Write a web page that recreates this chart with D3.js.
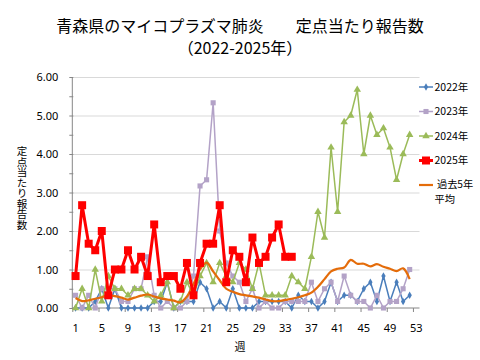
<!DOCTYPE html>
<html><head><meta charset="utf-8">
<script src="https://cdn.jsdelivr.net/npm/d3@7"></script>
<style>
html,body{margin:0;padding:0;background:#fff;}
svg{display:block;font-family:"Noto Sans CJK JP","Noto Sans",sans-serif;}
</style></head>
<body><svg id="c" width="480" height="360"></svg>
<script>
const weeks = d3.range(1, 54);
const xTickLabels = [1,5,9,13,17,21,25,29,33,37,41,45,49,53];
const yTickLabels = [0,1,2,3,4,5,6];
const seriesNames = ["2022年","2023年","2024年","2025年","過去5年平均"];

const s2022 = [0,0,0,0.17,0.5,0,0.5,0,0,0,0,0,0.17,0.17,0.67,0,0.17,0.17,0.17,0.67,0.5,0,0.17,0,0.5,0,0,0,0.17,0.17,0.17,0.17,0.17,0,0.33,0.17,0.17,0,0.17,0.67,0.17,0.33,0.33,0.17,0.5,0.67,0.17,0.83,0.17,0.67,0.17,0.33];
const s2023 = [0.33,0,0.33,0,0.5,0.5,0.5,0.17,0.17,0.5,0.5,1.33,0.33,0,0.17,0,0,0.17,0.83,3.17,3.33,5.33,2.0,1.17,0.83,0.67,0.17,0.5,0,0.17,0,0,0.17,0.17,0.17,0.17,0.67,0.17,0.5,0.67,0.17,0.83,0.33,0.17,0.17,0,0.33,0,0.17,0.17,0.5,1.0];
const s2024 = [0,0.5,0,1.0,0.17,0.83,0.5,0.5,0.33,0.5,0.5,0.33,0.17,0.33,0.67,0,0.17,0.67,0.33,0.83,1.17,0.67,1.17,0.83,0.67,1.17,1.0,0.5,1.17,0.33,0.33,0.33,0.33,0.83,0.67,0.5,1.33,2.5,1.83,4.17,2.5,4.83,5.0,5.67,4.0,5.0,4.5,4.67,4.17,3.33,4.0,4.5];
const s2025 = [0.83,2.67,1.67,1.5,2.0,0.33,1.0,1.0,1.5,1.0,1.33,0.83,2.17,0.67,0.83,0.83,0.5,1.17,0.33,1.17,1.67,1.67,2.67,0.67,1.5,1.33,0.67,1.83,1.17,1.33,1.83,2.17,1.33,1.33];
const sAvg = [0.26,0.18,0.2,0.24,0.28,0.33,0.31,0.27,0.22,0.27,0.32,0.35,0.3,0.25,0.22,0.19,0.15,0.3,0.62,1.0,1.18,0.95,0.72,0.5,0.42,0.36,0.33,0.3,0.27,0.22,0.18,0.18,0.21,0.24,0.28,0.33,0.4,0.55,0.75,0.95,1.02,1.05,1.25,1.15,1.15,1.08,1.14,1.07,1.02,0.96,1.03,0.75];

const svg = d3.select("#c");
const L = 72.3, R = 419.5, T = 77, B = 308;
const x = d3.scaleBand().domain(weeks).range([L, R]);
const xb = d3.scaleLinear().domain([0, 53]).range([L, R]);
const cx = w => x(w) + x.bandwidth() / 2;
const y = d3.scaleLinear().domain([0, 6]).range([B, T]);

// title
svg.append("text").attr("x", 240).attr("y", 31.5).attr("text-anchor", "middle")
  .attr("font-size", 16).attr("fill", "#000").text("青森県のマイコプラズマ肺炎　　定点当たり報告数");
svg.append("text").attr("x", 240).attr("y", 53.5).attr("text-anchor", "middle")
  .attr("font-size", 16).attr("fill", "#000").text("（2022-2025年）");

// gridlines
const grid = svg.append("g").attr("transform", `translate(${L},0)`)
  .call(d3.axisLeft(y).tickValues([1,2,3,4,5,6]).tickSize(-(R - L)).tickFormat(""));
grid.select(".domain").remove();
grid.selectAll("line").attr("stroke", "#d9d9d9").attr("stroke-width", 1);

// y axis
const ya = svg.append("g").attr("transform", `translate(${L},0)`)
  .call(d3.axisLeft(y).tickValues(d3.range(0, 6.01, 0.5)).tickSize(3).tickFormat(""));
ya.select(".domain").attr("stroke", "#868686").attr("d", `M0,${T}V${B}`);
ya.selectAll("line").attr("stroke", "#868686").attr("x2", -3).attr("x1", 1);
const yl = svg.append("g").attr("transform", `translate(${L},0)`)
  .call(d3.axisLeft(y).tickValues(yTickLabels).tickSize(0).tickPadding(14).tickFormat(d3.format(".2f")));
yl.select(".domain").remove();
yl.selectAll("text").attr("font-size", 11).attr("fill", "#000").attr("font-family", "'Noto Sans',sans-serif");

// x axis
const xa = svg.append("g").attr("transform", `translate(0,${B})`)
  .call(d3.axisBottom(xb).tickValues(d3.range(0, 53, 4)).tickSize(4).tickFormat(""));
xa.select(".domain").attr("stroke", "#868686").attr("d", `M${L},0H${R}`);
xa.selectAll("line").attr("stroke", "#868686");
const xl = svg.append("g").attr("transform", `translate(0,${B})`)
  .call(d3.axisBottom(x).tickValues(xTickLabels).tickSize(0).tickPadding(16));
xl.select(".domain").remove();
xl.selectAll("text").attr("font-size", 11).attr("fill", "#000").attr("font-family", "'Noto Sans',sans-serif");

// axis titles
svg.append("text").attr("x", 240).attr("y", 351).attr("text-anchor", "middle")
  .attr("font-size", 11).attr("fill", "#000").text("週");
svg.append("text").attr("x", 22).attr("y", 188).attr("text-anchor", "middle")
  .attr("font-size", 10.5).attr("fill", "#000")
  .style("writing-mode", "vertical-rl").style("text-orientation", "upright")
  .text("定点当たり報告数");

const line = d3.line().x((d, i) => cx(weeks[i])).y(d => y(d));
const smooth = d3.line().x((d, i) => cx(weeks[i])).y(d => y(d)).curve(d3.curveCatmullRom.alpha(0.5));

const conf = [
  {name: seriesNames[0], data: s2022, color: "#4a7ebb", w: 1.5, marker: "diamond", ms: 16},
  {name: seriesNames[1], data: s2023, color: "#b3a2c7", w: 1.5, marker: "square", ms: 26},
  {name: seriesNames[2], data: s2024, color: "#9bbb59", w: 1.5, marker: "triangle", ms: 24},
  {name: seriesNames[4], data: sAvg, color: "#e46c0a", w: 2.2, marker: null, smooth: true},
  {name: seriesNames[3], data: s2025, color: "#ff0000", w: 3, marker: "square", ms: 64}
];
const symMap = {diamond: d3.symbolDiamond, square: d3.symbolSquare, triangle: d3.symbolTriangle};

const plot = svg.append("g");
conf.forEach(c => {
  plot.append("path").attr("d", (c.smooth ? smooth : line)(c.data))
    .attr("fill", "none").attr("stroke", c.color).attr("stroke-width", c.w)
    .attr("stroke-linejoin", "round");
  if (c.marker) {
    plot.append("g").selectAll("path").data(c.data).join("path")
      .attr("transform", (d, i) => `translate(${cx(weeks[i])},${y(d)})`)
      .attr("d", d3.symbol().type(symMap[c.marker]).size(c.ms))
      .attr("fill", c.color);
  }
});

// legend
const leg = [
  {name: "2022年", color: "#4a7ebb", w: 1.5, marker: "diamond", ms: 16, y: 87},
  {name: "2023年", color: "#b3a2c7", w: 1.5, marker: "square", ms: 26, y: 111.5},
  {name: "2024年", color: "#9bbb59", w: 1.5, marker: "triangle", ms: 24, y: 136},
  {name: "2025年", color: "#ff0000", w: 3, marker: "square", ms: 64, y: 160.5},
  {name: null, color: "#e46c0a", w: 2.2, marker: null, y: 185}
];
const lg = svg.append("g");
leg.forEach(l => {
  lg.append("line").attr("x1", 419).attr("x2", 433).attr("y1", l.y).attr("y2", l.y)
    .attr("stroke", l.color).attr("stroke-width", l.w);
  if (l.marker) lg.append("path").attr("transform", `translate(426,${l.y})`)
    .attr("d", d3.symbol().type(symMap[l.marker]).size(l.ms)).attr("fill", l.color);
  if (l.name) lg.append("text").attr("x", 434.5).attr("y", l.y + 3.8).attr("font-size", 10.5)
    .attr("fill", "#000").text(l.name);
});
const avgT = lg.append("text").attr("font-size", 10.2).attr("fill", "#000");
avgT.append("tspan").attr("x", 437).attr("y", 187.5).text("過去5年");
avgT.append("tspan").attr("x", 434.5).attr("y", 202.5).text("平均");
</script></body></html>
